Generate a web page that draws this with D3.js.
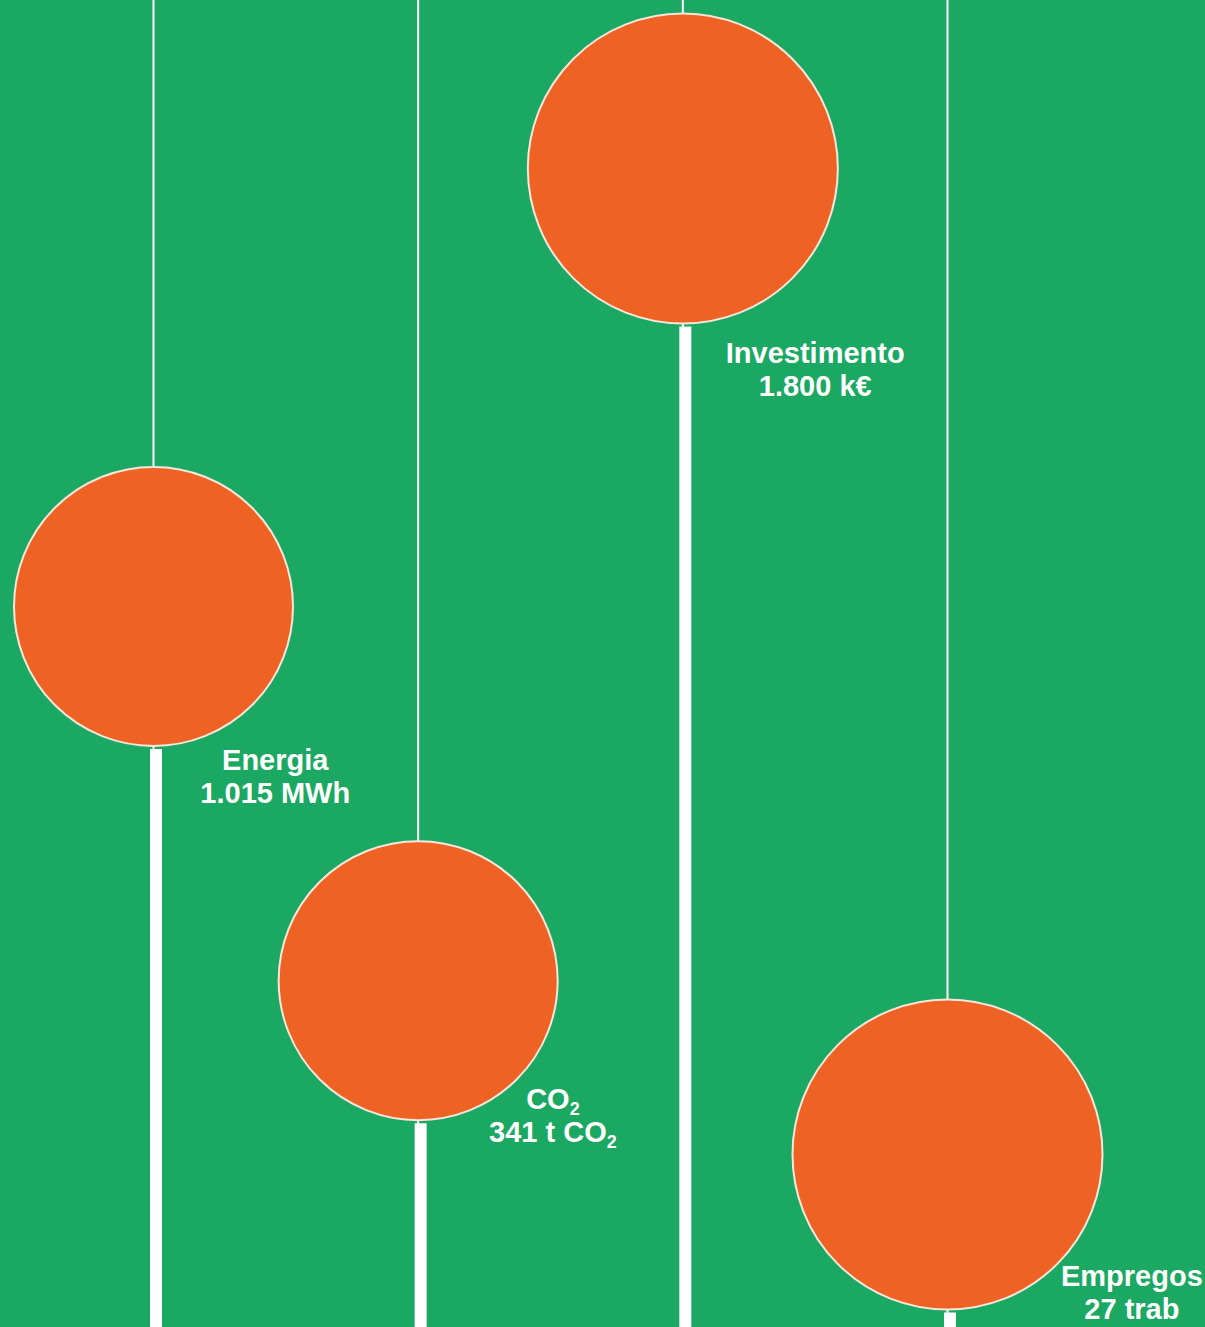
<!DOCTYPE html>
<html>
<head>
<meta charset="utf-8">
<script src="https://cdn.jsdelivr.net/npm/d3@7"></script>
<style>
  html, body { margin: 0; padding: 0; background: #1ba862; }
  svg { display: block; }
  .label { font-family: "Liberation Sans", Arial, sans-serif; font-weight: bold; fill: #ffffff; }
</style>
</head>
<body>
<div id="chart"></div>
<script>
// indicators, left to right
var categories = ["Energia", "CO2", "Investimento", "Empregos"]
var values = ["1.015", "341", "1.800", "27"]
var units = ["MWh", "t CO2", "k€", "trab"]
// vertical level of each bubble (0 = top, 100 = bottom of the panel)
var levels = [45.7, 73.9, 12.7, 87.0]
// bubble size, relative
var sizes = [90, 90, 100, 100]

var W = 1205
var H = 1327

var green = "#1ba862"
var orange = "#ee6224"

// per-label nudge (px) from the default spot under the bubble
var labelDx = [-1, 12, -4, 48]
var labelDy = [24, -11, 39, -23]

var svg = d3.select("#chart").append("svg")
  .attr("width", W)
  .attr("height", H)

svg.append("rect")
  .attr("width", W)
  .attr("height", H)
  .attr("fill", green)

var x = d3.scalePoint()
  .domain(categories)
  .range([153.5, 947.5])

var y = d3.scaleLinear()
  .domain([0, 100])
  .range([0, H])

var r = d3.scaleLinear()
  .domain([0, 100])
  .range([0, 155])

var items = categories.map(function (c, i) {
  return { name: c, value: values[i], unit: units[i], level: levels[i], size: sizes[i], i: i }
})

// thin line from the top down to the bubble
svg.selectAll("line.thin")
  .data(items)
  .enter()
  .append("line")
  .attr("class", "thin")
  .attr("x1", function (d) { return x(d.name) })
  .attr("x2", function (d) { return x(d.name) })
  .attr("y1", 0)
  .attr("y2", function (d) { return y(d.level) + r(d.size) + 4 })
  .attr("stroke", "#ffffff")
  .attr("stroke-width", 2)

// thick stem from the bubble to the bottom
svg.selectAll("line.thick")
  .data(items)
  .enter()
  .append("line")
  .attr("class", "thick")
  .attr("x1", function (d) { return x(d.name) + 2.5 })
  .attr("x2", function (d) { return x(d.name) + 2.5 })
  .attr("y1", function (d) { return y(d.level) + r(d.size) + 3 })
  .attr("y2", H)
  .attr("stroke", "#ffffff")
  .attr("stroke-width", 12)

svg.selectAll("circle.bubble")
  .data(items)
  .enter()
  .append("circle")
  .attr("class", "bubble")
  .attr("cx", function (d) { return x(d.name) })
  .attr("cy", function (d) { return y(d.level) })
  .attr("r", function (d) { return r(d.size) })
  .attr("fill", orange)
  .attr("stroke", "#f6e6dc")
  .attr("stroke-width", 2)

// labels: name on first line, value + unit on second
var fontSize = 29
var labels = svg.selectAll("text.label")
  .data(items)
  .enter()
  .append("text")
  .attr("class", "label")
  .attr("text-anchor", "middle")
  .attr("font-size", fontSize)

labels.each(function (d) {
  var t = d3.select(this)
  var rad = r(d.size)
  var lx = x(d.name) + rad * 0.88 + labelDx[d.i]
  var ly = y(d.level) + rad + labelDy[d.i]

  addLine(t, d.name, lx, ly)
  addLine(t, d.value + " " + d.unit, lx, ly + 33)
})

// writes a line, turning the "2" of CO2 into a subscript
function addLine(t, str, lx, ly) {
  var parts = str.split("CO2")
  var line = t.append("tspan")
    .attr("class", "line")
    .attr("x", lx)
    .attr("y", ly)
  var shifted = false
  parts.forEach(function (p, k) {
    if (p) {
      line.append("tspan").attr("dy", shifted ? -6 : 0).text(p)
      shifted = false
    }
    if (k < parts.length - 1) {
      line.append("tspan").attr("dy", shifted ? -6 : 0).text("CO")
      line.append("tspan")
        .attr("font-size", fontSize * 0.62)
        .attr("dy", 6)
        .text("2")
      shifted = true
    }
  })
}
</script>
</body>
</html>
